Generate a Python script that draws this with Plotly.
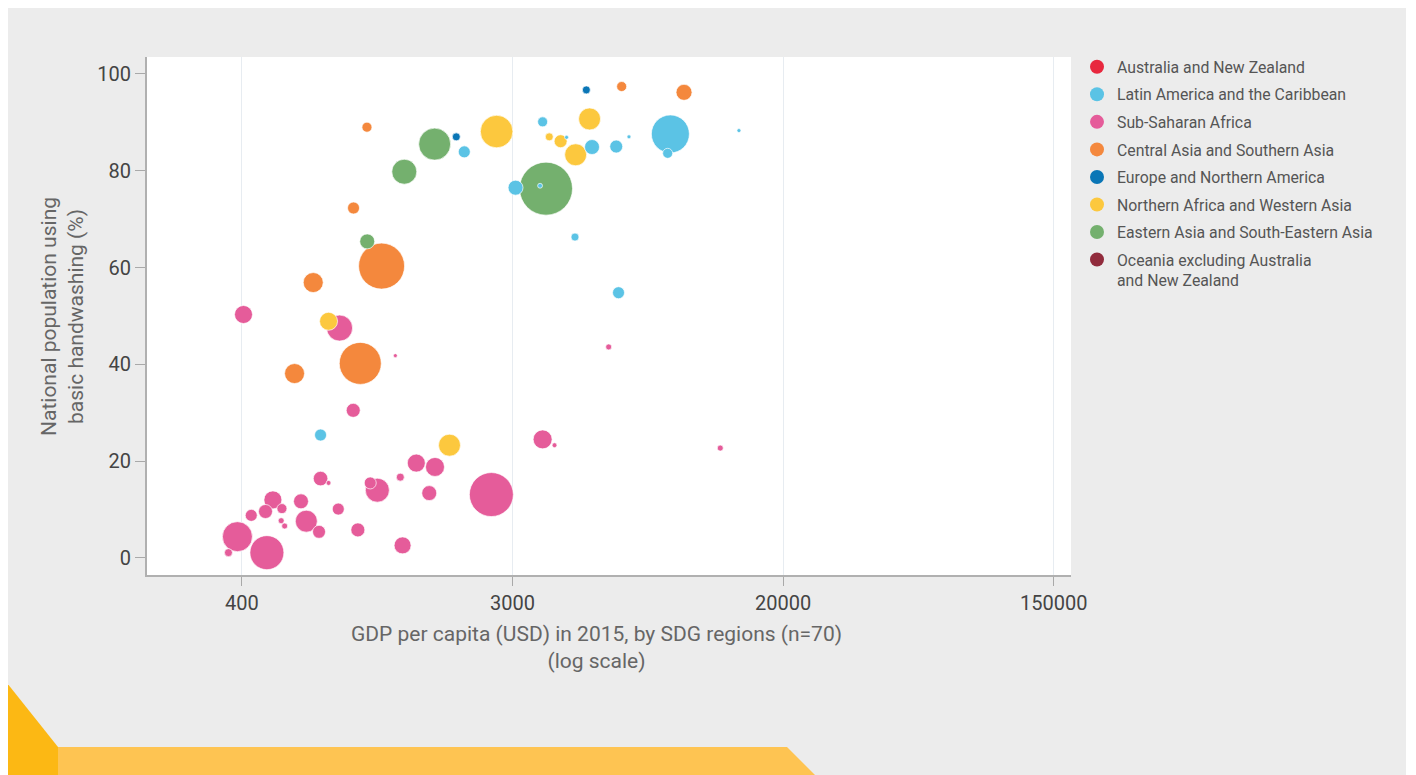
import math
import plotly.graph_objects as go

# ---------------- data ----------------
regions = [
    "Australia and New Zealand",
    "Latin America and the Caribbean",
    "Sub-Saharan Africa",
    "Central Asia and Southern Asia",
    "Europe and Northern America",
    "Northern Africa and Western Asia",
    "Eastern Asia and South-Eastern Asia",
    "Oceania excluding Australia<br>and New Zealand",
]

# GDP per capita (USD, 2015), % population with basic handwashing, relative population (bubble area)
anz_gdp, anz_hw, anz_pop = [], [], []

lac_gdp = [2086, 3722, 4443, 5362, 6412, 7045, 3047, 3652, 4727, 6522, 9566, 9377, 15882, 721]
lac_hw = [83.9, 90.1, 86.9, 84.9, 85.0, 87.0, 76.5, 76.9, 66.3, 54.8, 87.6, 83.6, 88.3, 25.4]
lac_pop = [36, 25, 4, 56, 42, 4, 56, 6, 16, 36, 361, 25, 4, 36]

ssa_gdp = [408, 830, 1253, 6063, 918, 3722, 4064, 1463, 1680, 2548, 721, 765, 1300, 1041, 1097, 1610,
           507, 542, 624, 822, 480, 432, 649, 539, 553, 713, 950, 390, 365, 485, 1322, 13834]
ssa_hw = [50.3, 47.5, 41.8, 43.6, 30.5, 24.5, 23.3, 19.6, 18.8, 13.1, 16.4, 15.5, 16.7, 15.5, 14.0, 13.4,
          12.0, 10.2, 11.7, 10.1, 9.6, 8.8, 7.6, 7.7, 6.6, 5.4, 5.8, 4.4, 1.1, 1.1, 2.6, 22.7]
ssa_pop = [81, 169, 4, 9, 49, 90, 6, 81, 90, 484, 53, 6, 16, 36, 144, 56,
           81, 25, 56, 36, 49, 36, 121, 9, 9, 42, 49, 225, 16, 289, 72, 9]

csa_gdp = [6675, 10583, 1016, 920, 1132, 683, 967, 595]
csa_hw = [97.4, 96.2, 89.0, 72.3, 60.3, 56.9, 40.2, 38.1]
csa_pop = [25, 64, 25, 36, 529, 100, 441, 100]

ena_gdp = [5141, 1966]
ena_hw = [96.7, 87.0]
ena_pop = [16, 16]

nawa_gdp = [2649, 5266, 3909, 4251, 4751, 765, 1870]
nawa_hw = [88.1, 90.7, 87.0, 86.1, 83.3, 48.9, 23.3]
nawa_pop = [266, 121, 16, 42, 121, 81, 121]

ease_gdp = [1676, 1339, 3816, 1018]
ease_hw = [85.5, 79.8, 76.3, 65.4]
ease_pop = [256, 156, 702, 56]

oc_gdp, oc_hw, oc_pop = [], [], []

x_tick_values = [403.4, 2981.0, 22026.5, 162754.8]
x_tick_labels = ["400", "3000", "20000", "150000"]
y_tick_values = [0, 20, 40, 60, 80, 100]

# ---------------- styles ----------------
colors = ["#e8283e", "#5bc3e5", "#e55c9a", "#f4883d", "#0a76b6", "#fcc83e", "#74b06e", "#912b3c"]
series = [
    (anz_gdp, anz_hw, anz_pop), (lac_gdp, lac_hw, lac_pop), (ssa_gdp, ssa_hw, ssa_pop),
    (csa_gdp, csa_hw, csa_pop), (ena_gdp, ena_hw, ena_pop), (nawa_gdp, nawa_hw, nawa_pop),
    (ease_gdp, ease_hw, ease_pop), (oc_gdp, oc_hw, oc_pop),
]

W, H = 1398, 767
ML, MR, MT, MB = 139, 335, 49, 200
PW, PH = W - ML - MR, H - MT - MB
FONT = "Roboto, 'Open Sans', sans-serif"


def pxx(xpage):
    return (xpage - 8 - ML) / PW


def pxy(ypage):
    return (H - MB - (ypage - 8)) / PH


fig = go.Figure()

# all bubbles in one layer, largest drawn first
pts = []
for ri, (gx, gy, gp) in enumerate(series):
    for a, b, c in zip(gx, gy, gp):
        pts.append((c, a, b, ri))
pts.sort(key=lambda t: -t[0])

fig.add_trace(go.Scatter(
    x=[p[1] for p in pts], y=[p[2] for p in pts], mode="markers",
    marker=dict(size=[p[0] for p in pts], sizemode="area", sizeref=0.5,
                color=[colors[p[3]] for p in pts], opacity=1,
                line=dict(color="rgba(255,255,255,0.85)", width=0.8)),
    text=[regions[p[3]].replace("<br>", " ") for p in pts],
    hovertemplate="%{text}<br>GDP: %{x}<br>%{y}%<extra></extra>",
    showlegend=False,
))

# legend entries
for ri, name in enumerate(regions):
    fig.add_trace(go.Scatter(
        x=[None], y=[None], mode="markers", name=name, legendgroup=str(ri),
        marker=dict(size=14, color=colors[ri]),
    ))

lnl, lnr = 5.298, 12.127
fig.update_layout(
    width=W, height=H,
    margin=dict(l=ML, r=MR, t=MT, b=MB, pad=0),
    paper_bgcolor="#ececec", plot_bgcolor="white",
    font=dict(family=FONT, color="#555555"),
    xaxis=dict(type="log", range=[lnl / math.log(10), lnr / math.log(10)],
               tickvals=x_tick_values, ticktext=x_tick_labels,
               ticks="outside", ticklen=9, tickwidth=1, tickcolor="#a9a9a9",
               tickfont=dict(size=20, color="#444444"),
               showgrid=True, gridcolor="#e7ecf1", gridwidth=1,
               showline=True, linecolor="#b0b0b0", linewidth=2, zeroline=False),
    yaxis=dict(range=[-3.52, 103.5], tickvals=y_tick_values,
               ticks="outside", ticklen=10, tickwidth=1, tickcolor="#a9a9a9",
               tickfont=dict(size=20, color="#444444"),
               showgrid=False, showline=True, linecolor="#b0b0b0", linewidth=2,
               zeroline=False),
    legend=dict(x=pxx(1077), y=pxy(50), xanchor="left", yanchor="top",
                font=dict(size=15.8, color="#555555", family=FONT),
                bgcolor="rgba(0,0,0,0)", itemsizing="trace", tracegroupgap=4,
                traceorder="grouped", valign="top"),
    annotations=[
        dict(text="GDP per capita (USD) in 2015, by SDG regions (n=70)<br>(log scale)",
             x=pxx(596), y=pxy(647), xref="paper", yref="paper",
             xanchor="center", yanchor="middle", showarrow=False,
             font=dict(size=21, color="#666666", family=FONT)),
        dict(text="National population using<br>basic handwashing (%)",
             x=pxx(62), y=pxy(317), xref="paper", yref="paper", textangle=-90,
             xanchor="center", yanchor="middle", showarrow=False,
             font=dict(size=21, color="#666666", family=FONT)),
    ],
    shapes=[
        dict(type="path", xref="paper", yref="paper", layer="above", line=dict(width=0),
             fillcolor="#fcb814",
             path=f"M {pxx(7)},{pxy(683)} L {pxx(58)},{pxy(747)} L {pxx(58)},{pxy(777)} L {pxx(7)},{pxy(777)} Z"),
        dict(type="path", xref="paper", yref="paper", layer="above", line=dict(width=0),
             fillcolor="#fec452",
             path=f"M {pxx(58)},{pxy(747)} L {pxx(787)},{pxy(747)} L {pxx(817)},{pxy(777)} L {pxx(58)},{pxy(777)} Z"),
    ],
)

fig.write_html("out.html")
